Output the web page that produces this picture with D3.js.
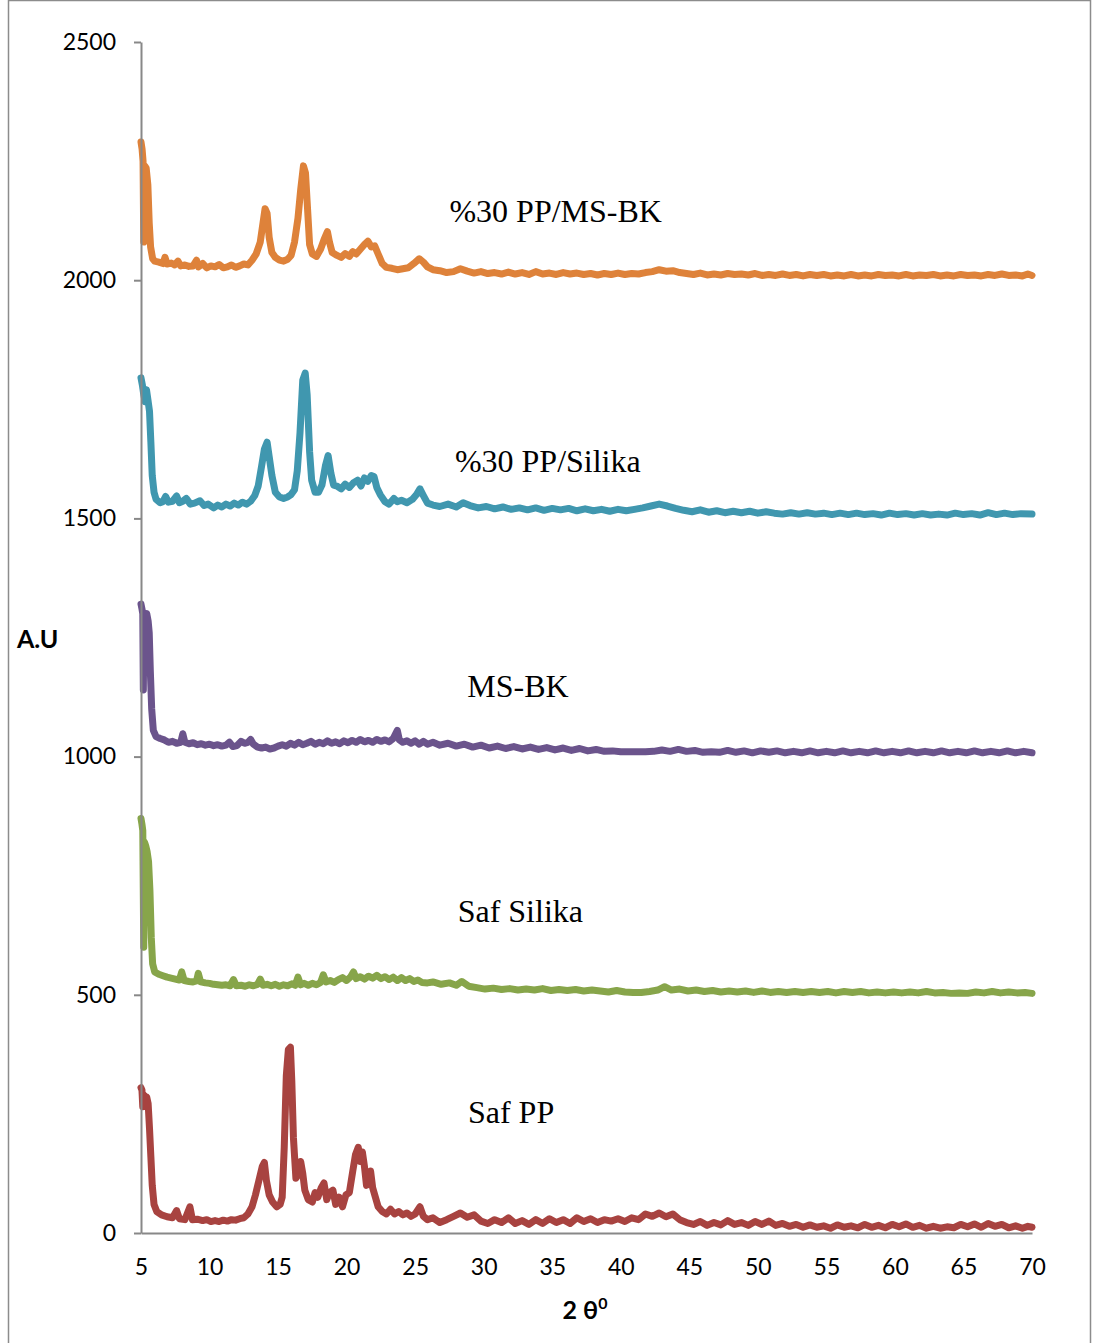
<!DOCTYPE html>
<html>
<head>
<meta charset="utf-8">
<script src="https://cdn.jsdelivr.net/npm/d3@7"></script>
<style>
  body { margin: 0; background: #fff; }
  .tick text { font-family: Lato, "Open Sans", sans-serif; font-size: 23px; fill: #000; }
  .lbl { font-family: "Liberation Serif", "Times New Roman", serif; font-size: 32px; fill: #000; }
</style>
</head>
<body>
<script>
// x = 2 theta, y = intensity (A.U)
const xTicks = [5, 10, 15, 20, 25, 30, 35, 40, 45, 50, 55, 60, 65, 70];
const yTicks = [0, 500, 1000, 1500, 2000, 2500];

const ppMsbk = [[5.0,2290],[5.08,2275],[5.15,2250],[5.2,2080],[5.27,2240],[5.38,2235],[5.5,2200],[5.6,2120],[5.7,2070],[5.85,2045],[6.0,2040],[6.3,2038],[6.6,2035],[6.75,2048],[6.9,2034],[7.2,2036],[7.45,2032],[7.7,2040],[7.9,2030],[8.2,2032],[8.5,2029],[8.8,2030],[9.05,2042],[9.2,2028],[9.5,2035],[9.8,2026],[10.1,2030],[10.4,2028],[10.7,2033],[11.0,2026],[11.3,2028],[11.6,2032],[11.9,2027],[12.2,2030],[12.5,2034],[12.8,2032],[13.1,2042],[13.4,2055],[13.7,2080],[13.9,2120],[14.05,2150],[14.2,2140],[14.35,2090],[14.55,2058],[14.8,2048],[15.1,2042],[15.4,2040],[15.7,2044],[15.95,2052],[16.2,2080],[16.45,2130],[16.65,2190],[16.85,2240],[17.0,2225],[17.15,2150],[17.3,2075],[17.5,2055],[17.8,2050],[18.1,2065],[18.35,2085],[18.6,2102],[18.75,2080],[18.95,2058],[19.3,2052],[19.6,2048],[19.9,2056],[20.2,2050],[20.45,2060],[20.7,2055],[21.0,2065],[21.3,2075],[21.55,2082],[21.8,2070],[22.05,2072],[22.3,2055],[22.6,2035],[22.9,2027],[23.3,2025],[23.7,2022],[24.1,2024],[24.5,2026],[24.9,2035],[25.3,2045],[25.6,2038],[25.9,2028],[26.3,2022],
  [26.8,2020],[27.3,2016],[27.8,2018],[28.3,2024],[28.8,2019],[29.3,2015],[29.8,2018],[30.3,2014],[30.8,2016],[31.3,2013],[31.8,2017],[32.3,2013],[32.8,2016],[33.3,2012],[33.8,2018],[34.3,2013],[34.8,2015],[35.3,2012],[35.8,2016],[36.3,2013],[36.8,2015],[37.3,2012],[37.8,2014],[38.3,2011],[38.8,2014],[39.3,2012],[39.8,2015],[40.3,2012],[40.8,2014],[41.3,2013],[41.8,2016],[42.3,2018],[42.8,2022],[43.3,2019],[43.8,2020],[44.3,2016],[44.8,2014],[45.3,2012],[45.8,2015],[46.3,2011],[46.8,2013],[47.3,2011],[47.8,2014],[48.3,2012],[48.8,2013],[49.3,2011],[49.8,2014],[50.3,2010],[50.8,2012],[51.3,2010],[51.8,2013],[52.3,2010],[52.8,2012],[53.3,2009],[53.8,2012],[54.3,2010],[54.8,2012],[55.3,2009],[55.8,2011],[56.3,2009],[56.8,2012],[57.3,2009],[57.8,2011],[58.3,2009],[58.8,2012],[59.3,2010],[59.8,2011],[60.3,2009],[60.8,2012],[61.3,2009],[61.8,2011],[62.3,2010],[62.8,2012],[63.3,2009],[63.8,2011],[64.3,2009],[64.8,2012],[65.3,2010],[65.8,2011],[66.3,2009],[66.8,2012],[67.3,2010],[67.8,2013],[68.3,2010],[68.8,2011],[69.3,2009],[69.7,2013],[70.0,2010]];

const ppSilika = [[5.0,1795],[5.1,1780],[5.2,1760],[5.3,1745],[5.4,1770],[5.5,1750],[5.62,1725],[5.72,1660],[5.82,1590],[5.95,1555],[6.1,1540],[6.4,1533],[6.6,1535],[6.8,1546],[7.0,1534],[7.3,1536],[7.6,1547],[7.8,1533],[8.05,1536],[8.3,1542],[8.6,1530],[8.9,1532],[9.3,1537],[9.6,1527],[9.9,1530],[10.3,1522],[10.6,1528],[10.9,1524],[11.2,1530],[11.5,1526],[11.8,1532],[12.1,1528],[12.4,1534],[12.7,1530],[13.0,1536],[13.3,1548],[13.55,1568],[13.8,1610],[14.0,1645],[14.2,1660],[14.35,1630],[14.55,1590],[14.8,1555],[15.1,1545],[15.4,1542],[15.7,1545],[15.95,1550],[16.2,1560],[16.4,1600],[16.6,1680],[16.8,1790],[16.98,1805],[17.12,1760],[17.3,1640],[17.45,1580],[17.7,1555],[17.95,1555],[18.2,1570],[18.45,1610],[18.65,1632],[18.85,1595],[19.05,1570],[19.3,1568],[19.6,1562],[19.9,1572],[20.2,1565],[20.5,1575],[20.8,1580],[21.05,1568],[21.3,1585],[21.55,1578],[21.8,1590],[22.0,1588],[22.2,1565],[22.45,1550],[22.8,1535],[23.1,1530],[23.45,1542],[23.7,1535],[24.0,1538],[24.4,1533],[24.8,1540],[25.1,1550],[25.35,1562],[25.6,1548],[25.9,1532],[26.3,1528],
  [26.8,1525],[27.4,1530],[28.0,1524],[28.5,1533],[29.0,1527],[29.6,1522],[30.2,1525],[30.8,1520],[31.4,1524],[32.0,1519],[32.6,1522],[33.2,1518],[33.8,1522],[34.4,1517],[35.0,1521],[35.6,1518],[36.2,1521],[36.8,1516],[37.4,1520],[38.0,1516],[38.6,1519],[39.2,1515],[39.8,1519],[40.4,1516],[41.0,1519],[41.6,1522],[42.2,1526],[42.8,1530],[43.4,1526],[44.0,1521],[44.6,1517],[45.2,1514],[45.8,1518],[46.4,1513],[47.0,1516],[47.6,1512],[48.2,1515],[48.8,1512],[49.4,1515],[50.0,1511],[50.6,1514],[51.2,1511],[51.8,1509],[52.4,1512],[53.0,1509],[53.6,1512],[54.2,1509],[54.8,1511],[55.4,1508],[56.0,1511],[56.6,1508],[57.2,1511],[57.8,1508],[58.4,1510],[59.0,1507],[59.6,1511],[60.2,1508],[60.8,1510],[61.4,1507],[62.0,1510],[62.6,1507],[63.2,1509],[63.8,1507],[64.4,1511],[65.0,1508],[65.6,1510],[66.2,1507],[66.8,1512],[67.4,1508],[68.0,1511],[68.6,1508],[69.2,1510],[70.0,1509]];

const msBk = [[5.0,1320],[5.07,1310],[5.13,1300],[5.17,1140],[5.22,1300],[5.3,1295],[5.42,1300],[5.52,1285],[5.6,1260],[5.68,1180],[5.78,1100],[5.9,1055],[6.1,1042],[6.4,1038],[6.7,1035],[7.0,1030],[7.3,1032],[7.6,1028],[7.9,1030],[8.05,1048],[8.2,1030],[8.5,1027],[8.8,1029],[9.1,1025],[9.4,1027],[9.7,1024],[10.0,1026],[10.3,1023],[10.6,1025],[10.9,1022],[11.2,1024],[11.45,1030],[11.7,1021],[12.0,1023],[12.3,1032],[12.55,1028],[12.8,1030],[13.0,1036],[13.2,1026],[13.5,1020],[13.8,1018],[14.1,1020],[14.4,1016],[14.7,1018],[15.0,1022],[15.3,1025],[15.6,1022],[15.9,1028],[16.2,1024],[16.5,1030],[16.8,1025],[17.1,1028],[17.4,1032],[17.7,1026],[18.0,1030],[18.3,1027],[18.6,1033],[18.9,1028],[19.2,1031],[19.5,1027],[19.8,1033],[20.1,1029],[20.4,1034],[20.7,1030],[21.0,1036],[21.3,1031],[21.6,1034],[21.9,1030],[22.2,1036],[22.5,1032],[22.8,1035],[23.1,1031],[23.4,1038],[23.7,1055],[23.85,1035],[24.1,1030],[24.4,1033],[24.7,1028],[25.0,1033],[25.3,1026],[25.6,1032],[25.9,1026],
  [26.3,1030],[26.8,1024],[27.4,1028],[28.0,1022],[28.6,1026],[29.2,1020],[29.8,1024],[30.4,1018],[31.0,1022],[31.6,1017],[32.2,1021],[32.8,1016],[33.4,1020],[34.0,1015],[34.6,1019],[35.2,1014],[35.8,1018],[36.4,1013],[37.0,1017],[37.6,1012],[38.2,1015],[38.8,1011],[39.4,1012],[40.0,1010],[40.6,1010],[41.2,1010],[41.8,1010],[42.4,1011],[43.0,1014],[43.6,1011],[44.2,1015],[44.8,1011],[45.4,1013],[46.0,1009],[46.6,1010],[47.2,1009],[47.8,1013],[48.4,1009],[49.0,1012],[49.6,1008],[50.2,1012],[50.8,1009],[51.4,1012],[52.0,1008],[52.6,1011],[53.2,1008],[53.8,1012],[54.4,1008],[55.0,1011],[55.6,1008],[56.2,1012],[56.8,1008],[57.4,1011],[58.0,1008],[58.6,1012],[59.2,1008],[59.8,1011],[60.4,1008],[61.0,1012],[61.6,1008],[62.2,1011],[62.8,1008],[63.4,1012],[64.0,1008],[64.6,1011],[65.2,1008],[65.8,1012],[66.4,1008],[67.0,1011],[67.6,1008],[68.2,1012],[68.8,1008],[69.4,1011],[70.0,1008]];

const safSilika = [[5.0,870],[5.07,858],[5.13,845],[5.2,600],[5.26,820],[5.35,812],[5.45,800],[5.55,780],[5.65,720],[5.75,620],[5.85,565],[6.0,548],[6.3,543],[6.6,540],[6.9,537],[7.2,535],[7.5,533],[7.8,531],[7.97,548],[8.15,530],[8.5,528],[8.8,527],[9.05,529],[9.18,545],[9.35,527],[9.7,525],[10.0,524],[10.3,522],[10.6,521],[10.9,520],[11.2,521],[11.5,519],[11.75,532],[11.95,519],[12.3,520],[12.6,518],[12.9,521],[13.2,519],[13.5,522],[13.7,533],[13.9,520],[14.2,522],[14.5,519],[14.8,522],[15.1,518],[15.4,521],[15.7,519],[16.0,523],[16.25,520],[16.45,537],[16.65,521],[16.9,524],[17.2,520],[17.5,524],[17.8,521],[18.1,526],[18.3,542],[18.5,527],[18.8,530],[19.1,526],[19.4,532],[19.7,536],[20.0,530],[20.3,538],[20.5,548],[20.7,534],[21.0,538],[21.3,533],[21.6,539],[21.9,535],[22.2,541],[22.5,534],[22.8,538],[23.1,532],[23.4,537],[23.7,530],[24.0,536],[24.3,530],[24.6,534],[24.9,528],[25.2,531],[25.5,526],[25.9,525],
  [26.3,527],[26.9,522],[27.5,525],[28.0,520],[28.4,528],[28.9,518],[29.5,515],[30.1,512],[30.7,514],[31.3,511],[31.9,513],[32.5,510],[33.1,512],[33.7,510],[34.3,513],[34.9,509],[35.5,511],[36.1,509],[36.7,511],[37.3,508],[37.9,510],[38.5,508],[39.1,506],[39.7,509],[40.3,506],[40.9,505],[41.5,505],[42.1,507],[42.7,510],[43.2,517],[43.7,510],[44.3,512],[44.9,508],[45.5,510],[46.1,507],[46.7,509],[47.3,506],[47.9,508],[48.5,506],[49.1,508],[49.7,505],[50.3,508],[50.9,505],[51.5,507],[52.1,505],[52.7,507],[53.3,505],[53.9,507],[54.5,505],[55.1,507],[55.7,504],[56.3,507],[56.9,505],[57.5,507],[58.1,504],[58.7,506],[59.3,504],[59.9,506],[60.5,504],[61.1,506],[61.7,504],[62.3,507],[62.9,504],[63.5,505],[64.1,503],[64.7,504],[65.3,503],[65.9,506],[66.5,504],[67.1,507],[67.7,504],[68.3,506],[68.9,504],[69.5,505],[70.0,503]];

const safPP = [[5.0,305],[5.07,300],[5.13,265],[5.2,290],[5.3,283],[5.42,285],[5.52,272],[5.62,220],[5.72,160],[5.82,100],[5.95,60],[6.15,45],[6.5,38],[6.9,34],[7.3,32],[7.6,47],[7.8,30],[8.2,28],[8.57,55],[8.75,28],[9.1,29],[9.5,26],[9.8,28],[10.1,24],[10.4,26],[10.7,24],[11.0,27],[11.3,25],[11.6,28],[11.9,27],[12.2,30],[12.5,32],[12.8,40],[13.1,55],[13.35,80],[13.6,110],[13.85,140],[14.0,148],[14.15,110],[14.35,80],[14.6,65],[14.9,55],[15.15,60],[15.3,75],[15.45,180],[15.6,330],[15.75,385],[15.9,390],[16.0,320],[16.12,200],[16.3,115],[16.5,125],[16.65,150],[16.8,125],[16.95,90],[17.2,70],[17.5,65],[17.7,85],[17.9,75],[18.15,95],[18.35,105],[18.55,70],[18.75,85],[19.0,90],[19.2,60],[19.45,75],[19.7,55],[19.95,80],[20.2,85],[20.45,130],[20.65,165],[20.85,180],[21.0,150],[21.15,170],[21.3,140],[21.45,100],[21.6,120],[21.75,130],[21.9,95],[22.1,75],[22.3,55],[22.6,45],[22.9,40],[23.2,50],[23.5,40],[23.8,45],[24.1,38],[24.4,42],[24.7,35],[25.0,40],[25.35,55],[25.6,35],[25.9,28],
  [26.3,32],[26.8,22],[27.3,28],[27.8,35],[28.3,42],[28.8,33],[29.3,38],[29.8,25],[30.3,20],[30.8,28],[31.3,22],[31.8,32],[32.3,20],[32.8,26],[33.3,18],[33.8,28],[34.3,20],[34.8,30],[35.3,22],[35.8,28],[36.3,20],[36.8,32],[37.3,24],[37.8,30],[38.3,22],[38.8,28],[39.3,25],[39.8,30],[40.3,24],[40.8,32],[41.3,28],[41.8,40],[42.3,35],[42.8,42],[43.3,34],[43.8,40],[44.3,28],[44.8,22],[45.3,18],[45.8,24],[46.3,16],[46.8,22],[47.3,17],[47.8,26],[48.3,18],[48.8,22],[49.3,16],[49.8,24],[50.3,18],[50.8,25],[51.3,16],[51.8,20],[52.3,14],[52.8,18],[53.3,12],[53.8,17],[54.3,12],[54.8,15],[55.3,10],[55.8,17],[56.3,12],[56.8,15],[57.3,11],[57.8,18],[58.3,12],[58.8,16],[59.3,11],[59.8,18],[60.3,13],[60.8,19],[61.3,12],[61.8,16],[62.3,10],[62.8,14],[63.3,10],[63.8,13],[64.3,11],[64.8,18],[65.3,13],[65.8,19],[66.3,12],[66.8,20],[67.3,14],[67.8,18],[68.3,11],[68.8,15],[69.3,10],[69.7,14],[70.0,12]];

const seriesNames = ["%30 PP/MS-BK", "%30 PP/Silika", "MS-BK", "Saf Silika", "Saf PP"];
const seriesData = [ppMsbk, ppSilika, msBk, safSilika, safPP];
const seriesColors = ["#DE823A", "#4097AF", "#6B548C", "#87A54A", "#A84340"];
// label anchor in data units (left edge, baseline)
const labelX = [27.5, 27.9, 28.8, 28.1, 28.85];
const labelY = [2123, 1598, 1125, 653, 231];

const W = 1096, H = 1343;
const svg = d3.select("body").append("svg")
  .attr("width", W)
  .attr("height", H);

// outer chart frame
svg.append("rect")
  .attr("x", 8.5).attr("y", 0.5)
  .attr("width", 1082).attr("height", H + 10)
  .attr("fill", "none")
  .attr("stroke", "#8c8c8c")
  .attr("stroke-width", 1.5);

const x = d3.scaleLinear().domain([5, 70]).range([141, 1032]);
const y = d3.scaleLinear().domain([0, 2500]).range([1233, 42]);

const line = d3.line()
  .x(d => x(d[0]))
  .y(d => y(d[1]));

seriesData.forEach((s, i) => {
  svg.append("path")
    .datum(s)
    .attr("d", line)
    .attr("fill", "none")
    .attr("stroke", seriesColors[i])
    .attr("stroke-width", 7)
    .attr("stroke-linejoin", "round")
    .attr("stroke-linecap", "round");
});

// y axis
const yAxis = svg.append("g")
  .attr("transform", "translate(141,0)")
  .call(d3.axisLeft(y).tickValues(yTicks).tickFormat(d3.format("d"))
    .tickSizeInner(7).tickSizeOuter(0).tickPadding(18));
yAxis.select(".domain").attr("stroke", "#888").attr("stroke-width", 2);
yAxis.selectAll(".tick line").attr("stroke", "#888").attr("stroke-width", 2);

// x axis
const xAxis = svg.append("g")
  .attr("transform", "translate(0,1233)")
  .call(d3.axisBottom(x).tickValues(xTicks).tickFormat(d3.format("d"))
    .tickSizeInner(0).tickSizeOuter(0).tickPadding(26));
xAxis.select(".domain").attr("stroke", "#888").attr("stroke-width", 2);

// series labels
svg.selectAll("text.lbl")
  .data(seriesNames)
  .enter()
  .append("text")
  .attr("class", "lbl")
  .attr("x", (d, i) => x(labelX[i]))
  .attr("y", (d, i) => y(labelY[i]))
  .text(d => d);

// axis titles
svg.append("text")
  .attr("x", 17).attr("y", 648)
  .attr("font-family", "Lato, 'Open Sans', sans-serif")
  .attr("font-size", 25).attr("font-weight", "bold")
  .text("A.U");

const xt = svg.append("text")
  .attr("x", 585).attr("y", 1319)
  .attr("text-anchor", "middle")
  .attr("font-family", "Lato, 'Open Sans', sans-serif")
  .attr("font-size", 25).attr("font-weight", "bold");
xt.append("tspan").text("2 θ");
xt.append("tspan").attr("dy", -10).attr("font-size", 16).text("0");
</script>
</body>
</html>
